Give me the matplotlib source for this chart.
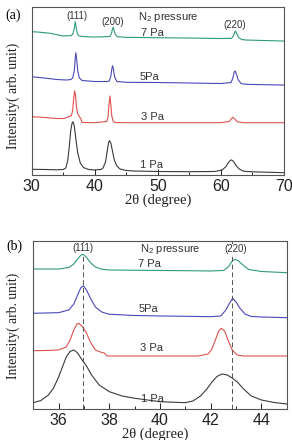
import matplotlib
matplotlib.use("Agg")
import matplotlib.pyplot as plt
from matplotlib.ticker import MultipleLocator

# ---------------- Panel (a) data: 2theta 30-70 ----------------
a_x_1pa = [30, 32, 34, 35, 35.4, 35.7, 35.95, 36.2, 36.4, 36.55, 36.75, 37.0, 37.3, 37.7, 38.2, 39, 40, 41,
           41.3, 41.7, 42.0, 42.2, 42.35, 42.55, 42.8, 43.1, 43.5, 44, 45, 46, 50, 55, 59,
           60.2, 60.8, 61.2, 61.5, 61.7, 62.0, 62.4, 62.9, 63.5, 64, 66, 70]
a_y_1pa = [5.7, 5.5, 5.2, 5.5, 7, 14, 28, 45, 52, 53.3, 49, 36, 22, 12, 7.5, 5.5, 5, 5.5,
           7, 13, 25, 33, 34.3, 32, 24, 15, 9, 6, 4.5, 4, 3.5, 3.3, 3.5,
           5, 8.5, 12.5, 14.8, 15, 13.5, 9.5, 6, 4, 3.5, 3, 2.3]

a_x_3pa = [30, 31, 32, 33, 34, 35, 35.8, 36.1, 36.3, 36.5, 36.65, 36.8, 36.95, 37.1, 37.3, 37.6, 37.8, 38.0,
           40, 41.9, 42.1, 42.25, 42.4, 42.55, 42.7, 42.9, 43.2, 45, 50, 55, 60, 61.3, 61.7, 61.9, 62.2,
           62.6, 63.5, 70]
a_y_3pa = [58.3, 58, 57.5, 57, 56.5, 56.5, 58, 59, 59.5, 65, 76, 84.3, 79, 68, 61, 58, 56, 52.5,
           52.3, 53.5, 58, 70, 79, 70, 59, 54, 52.5, 52.3, 52.3, 52.3, 52.3, 53.5, 56.5, 57.7, 56,
           53.3, 52.3, 52.3]

a_x_5pa = [30, 32, 34, 35.5, 36.2, 36.5, 36.75, 36.9, 37.0, 37.12, 37.3, 37.55, 38, 40, 42.0, 42.3, 42.55,
           42.7, 42.82, 42.95, 43.15, 43.5, 45, 50, 55, 60, 61.6, 61.9, 62.1, 62.25, 62.45, 62.75, 63.2,
           64, 67, 70]
a_y_5pa = [98.3, 97, 95.5, 95, 95.5, 97, 104, 117, 122.3, 116, 104, 97, 94.5, 93.5, 93.5, 94, 99,
           106, 109.3, 106, 98, 93.5, 92.7, 92.5, 92, 91.5, 92.5, 97, 103, 104, 101, 95, 91.5,
           90.7, 90.3, 90]

a_x_7pa = [30, 31, 33, 35, 36.3, 36.55, 36.72, 36.9, 37.08, 37.25, 37.5, 38.5, 40, 42.4, 42.65, 42.8, 42.92,
           43.05, 43.25, 43.6, 45, 50, 55, 60, 61.7, 62.0, 62.2, 62.32, 62.5, 62.8, 63.3, 64, 67, 70]
a_y_7pa = [143.3, 143, 141.7, 139, 139.5, 141.5, 146, 153.3, 146, 141, 139, 138.3, 138, 138.5, 141.5, 146, 147.7,
           145, 140.5, 138.3, 137.7, 137.3, 137, 136.5, 136.7, 139.5, 143, 144, 141.5, 137.5, 135.5, 135,
           134.5, 134]

# ---------------- Panel (b) data: 2theta 35-45 ----------------
b_x_1pa = [35, 35.3, 35.6, 35.8, 36.0, 36.15, 36.3, 36.45, 36.6, 36.75, 36.9, 37.1, 37.3, 37.6, 38.0, 38.5,
           39, 40, 41, 41.3, 41.6, 41.85, 42.05, 42.25, 42.45, 42.65, 42.85, 43.05, 43.3, 43.6, 44, 44.5, 45]
b_y_1pa = [6.3, 8.5, 14, 21, 32, 42, 52, 57.5, 59, 56, 50, 43, 34, 24, 17.3, 13,
           10.7, 7.3, 6.3, 8, 13, 20, 27, 32.5, 35, 34, 31, 27, 20, 13, 9, 6.5, 5]

b_x_3pa = [35, 35.5, 36, 36.3, 36.45, 36.6, 36.72, 36.8, 36.95, 37.1, 37.25, 37.45, 37.7, 37.8, 37.9, 38.5,
           40, 41.5, 41.9, 42.05, 42.2, 42.32, 42.42, 42.55, 42.7, 42.85, 43.05, 43.3, 44, 45]
b_y_3pa = [58.3, 58.5, 59, 62, 69, 79, 85, 85.7, 82, 76, 67, 59, 56.5, 56, 53, 53,
           53, 53, 55, 60, 70, 78, 80.7, 78, 68, 59, 54, 53, 53, 53]

b_x_5pa = [35, 35.5, 36, 36.4, 36.6, 36.75, 36.87, 36.97, 37.1, 37.25, 37.45, 37.7, 38, 39, 40, 41, 42,
           42.4, 42.6, 42.75, 42.87, 43.0, 43.15, 43.35, 43.6, 44, 45]
b_y_5pa = [95.7, 96, 96.3, 99, 105, 114, 121, 123.3, 119, 111, 102, 97, 94.7, 93.5, 93, 92.7, 92.3,
           93, 99, 106, 110.7, 107, 101, 95, 92.5, 92, 91.3]

b_x_7pa = [35, 35.5, 36, 36.4, 36.6, 36.75, 36.88, 36.97, 37.1, 37.25, 37.45, 37.7, 38, 39, 40, 41, 42,
           42.5, 42.7, 42.85, 42.97, 43.1, 43.25, 43.5, 44, 45]
b_y_7pa = [140, 140, 140, 141.5, 145, 150, 153.8, 154.7, 151.5, 146.5, 142, 139.8, 139, 138.7, 138.5, 138.3, 138,
           138.5, 142, 148, 149.7, 148, 144.5, 139.5, 137.5, 136.3]

b_ref_lines = [36.95, 42.85]

pressure_labels = ["1 Pa", "3 Pa", "5Pa", "7 Pa"]
colors = ["#3a3a3a", "#e0504f", "#4848b8", "#2e9a7c"]

a_xticks = [30, 40, 50, 60, 70]
b_xticks = [36, 38, 40, 42, 44]

SANS = ["Liberation Sans", "DejaVu Sans"]
SERIF = ["Liberation Serif", "DejaVu Serif"]
plt.rcParams["mathtext.fontset"] = "custom"
plt.rcParams["mathtext.rm"] = "Liberation Sans"
plt.rcParams["mathtext.it"] = "Liberation Sans"

fig = plt.figure(figsize=(2.92, 4.40), dpi=100)
axa = fig.add_axes([0.1086, 0.6023, 0.864, 0.3817])
axb = fig.add_axes([0.1140, 0.0705, 0.8678, 0.3825])

txtc = "#333333"

def style(ax, xlim, ylim, minor, ticks):
    ax.set_xlim(*xlim)
    ax.set_ylim(*ylim)
    ax.set_yticks([])
    ax.set_xticks(ticks)
    ax.xaxis.set_minor_locator(MultipleLocator(minor))
    ax.tick_params(axis="x", which="major", direction="in", length=4, width=0.7,
                   labelsize=11.5, pad=3, colors="#222222")
    ax.tick_params(axis="x", which="minor", direction="in", length=2.5, width=0.6)
    for lab in ax.get_xticklabels():
        lab.set_family(SANS)
    for s in ax.spines.values():
        s.set_linewidth(0.8)
        s.set_color("#555555")

# Panel (a)
series_a = [(a_x_1pa, a_y_1pa), (a_x_3pa, a_y_3pa), (a_x_5pa, a_y_5pa), (a_x_7pa, a_y_7pa)]
for (x, y), c in zip(series_a, colors):
    axa.plot(x, y, color=c, lw=0.8)
style(axa, (30, 70), (0, 168), 5, a_xticks)

axa.text(37.1, 159, "(111)", fontsize=7, family=SANS, color=txtc, ha="center", va="center")
axa.text(42.8, 153.5, "(200)", fontsize=7, family=SANS, color=txtc, ha="center", va="center")
axa.text(62.2, 150, "(220)", fontsize=7, family=SANS, color=txtc, ha="center", va="center")
axa.text(46.8, 158.3, "N$_2$ pressure", fontsize=8, family=SANS, color=txtc, ha="left", va="center")
a_label_pos = [(47.2, 10), (47.3, 58), (47.05, 98), (47.4, 142.3)]
for (lx, ly), t in zip(a_label_pos, pressure_labels):
    axa.text(lx, ly, t, fontsize=8, family=SANS, color=txtc, ha="left", va="center")

# Panel (b)
series_b = [(b_x_1pa, b_y_1pa), (b_x_3pa, b_y_3pa), (b_x_5pa, b_y_5pa), (b_x_7pa, b_y_7pa)]
for (x, y), c in zip(series_b, colors):
    axb.plot(x, y, color=c, lw=0.8)
for xv in b_ref_lines:
    axb.axvline(xv, color="#555555", lw=0.7, ls=(0, (5, 3)))
style(axb, (35, 45), (0, 168.3), 1, b_xticks)

axb.text(36.97, 160.7, "(111)", fontsize=7, family=SANS, color=txtc, ha="center", va="center",
         bbox=dict(fc="white", ec="none", pad=0.5))
axb.text(42.99, 159.7, "(220)", fontsize=7, family=SANS, color=txtc, ha="center", va="center",
         bbox=dict(fc="white", ec="none", pad=0.5))
axb.text(39.2, 159.7, "N$_2$ pressure", fontsize=8, family=SANS, color=txtc, ha="left", va="center")
b_label_pos = [(39.25, 10), (39.2, 60.7), (39.15, 99.7), (39.15, 145)]
for (lx, ly), t in zip(b_label_pos, pressure_labels):
    axb.text(lx, ly, t, fontsize=8, family=SANS, color=txtc, ha="left", va="center")

# Labels
fig.text(0.045, 0.966, "(a)", fontsize=10, family=SERIF, ha="center", va="center")
fig.text(0.051, 0.441, "(b)", fontsize=10, family=SERIF, ha="center", va="center")
fig.text(0.045, 0.783, "Intensity( arb. unit)", fontsize=9.8, family=SERIF, rotation=90,
         ha="center", va="center", color="#222222")
fig.text(0.045, 0.259, "Intensity( arb. unit)", fontsize=9.8, family=SERIF, rotation=90,
         ha="center", va="center", color="#222222")
fig.text(0.541, 0.545, "2\u03b8 (degree)", fontsize=10.5, family=SERIF, ha="center", va="center",
         color="#222222")
fig.text(0.531, 0.0136, "2\u03b8 (degree)", fontsize=10.5, family=SERIF, ha="center", va="center",
         color="#222222")

fig.savefig("out.png", dpi=100)
